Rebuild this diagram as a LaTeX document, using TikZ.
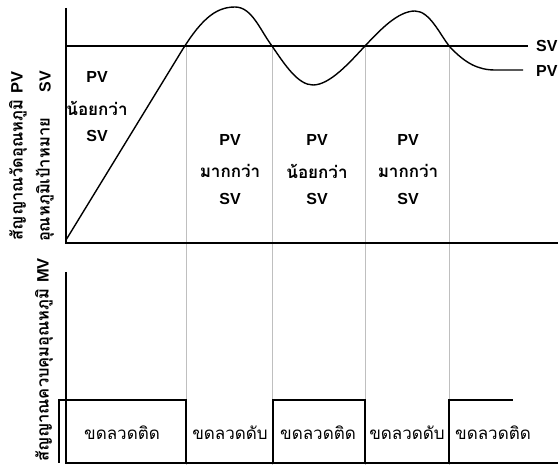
\documentclass[tikz,border=0pt]{standalone}
\usepackage{fontspec}
\setmainfont{Liberation Sans}
\newfontfamily\thaifont[Script=Thai]{Loma}
\begin{document}
\begin{tikzpicture}[x=1pt,y=-1pt,
  axis/.style={line width=1.8pt},
  sig/.style={line width=1.4pt},
  guide/.style={draw=black!25, line width=0.8pt},
  lbl/.style={font=\bfseries\fontsize{16}{18}\selectfont, align=center, inner sep=0pt},
  thlbl/.style={font=\thaifont\bfseries\fontsize{17}{19}\selectfont, inner sep=0pt},
  coil/.style={font=\thaifont\fontsize{17}{19}\selectfont, inner sep=0pt},
  side/.style={font=\thaifont\bfseries\fontsize{16.5}{18}\selectfont, rotate=90, inner sep=0pt}]
\useasboundingbox (0,0) rectangle (558,465);
% guide lines
\foreach \gx/\gn in {186/ga,272/gb,365/gc,449/gd}{
  \coordinate (\gn t) at (\gx,46);
  \coordinate (\gn b) at (\gx,465);
  \draw[guide] (\gn t) -- (\gn b);
}
% top axes
\coordinate (tA) at (66,8);
\coordinate (tO) at (66,243);
\coordinate (tX) at (558,243);
\draw[axis] (tA) -- (tO) -- (tX);
% SV line
\coordinate (svS) at (66,46);
\coordinate (svE) at (528,46);
\draw[sig] (svS) -- (svE);
\node[lbl, anchor=west] (svlab) at (536,46) {SV};
% PV curve
\coordinate (pvS) at (66,240);
\draw[sig] (pvS) -- (178,57) .. controls (200,20) and (215,7) .. (235,7)
  .. controls (252,7) and (260,30) .. (272,46)
  .. controls (285,65) and (298,85) .. (313,85)
  .. controls (330,85) and (350,62) .. (365,46)
  .. controls (380,30) and (398,11) .. (415,11)
  .. controls (430,11) and (440,35) .. (450,47)
  .. controls (465,63) and (478,70) .. (495,70) -- (523,70) coordinate (pvE);
\node[lbl, anchor=west] (pvlab) at (536,71) {PV};
% region labels
\foreach \cx/\cy/\word/\nm in {97/77/{น้อยกว่า}/r1, 230/140/{มากกว่า}/r2, 317/140/{น้อยกว่า}/r3, 408/140/{มากกว่า}/r4}{
  \node[lbl] (\nm a) at (\cx,\cy) {PV};
  \node[thlbl] (\nm b) at (\cx,\cy+31) {\word};
  \node[lbl] (\nm c) at (\cx,\cy+59) {SV};
}
% side labels
\node[side] (y1) at (18,156) {สัญญาณวัดอุณหภูมิ \bfseries\rmfamily PV};
\node[side] (y2) at (45,180) {อุณหภูมิเป้าหมาย};
\node[side, font=\bfseries\fontsize{16}{18}\selectfont] (y3) at (45,82) {SV};
\node[side] (y4) at (44,360) {สัญญาณควบคุมอุณหภูมิ \bfseries\rmfamily MV};
% bottom axes
\coordinate (bA) at (66,272);
\coordinate (bO) at (66,463);
\coordinate (bX) at (558,463);
\draw[axis] (bA) -- (bO) -- (bX);
% square wave
\draw[sig] (59,463) -- (59,400) -- (186,400) -- (186,463);
\draw[sig] (273,463) -- (273,400) -- (365,400) -- (365,463);
\draw[sig] (449,463) -- (449,400) -- (513,400);
\node[coil] (c1) at (122,433) {ขดลวดติด};
\node[coil] (c2) at (230,433) {ขดลวดดับ};
\node[coil] (c3) at (318,433) {ขดลวดติด};
\node[coil] (c4) at (407,433) {ขดลวดดับ};
\node[coil] (c5) at (493,433) {ขดลวดติด};
\end{tikzpicture}
\end{document}
